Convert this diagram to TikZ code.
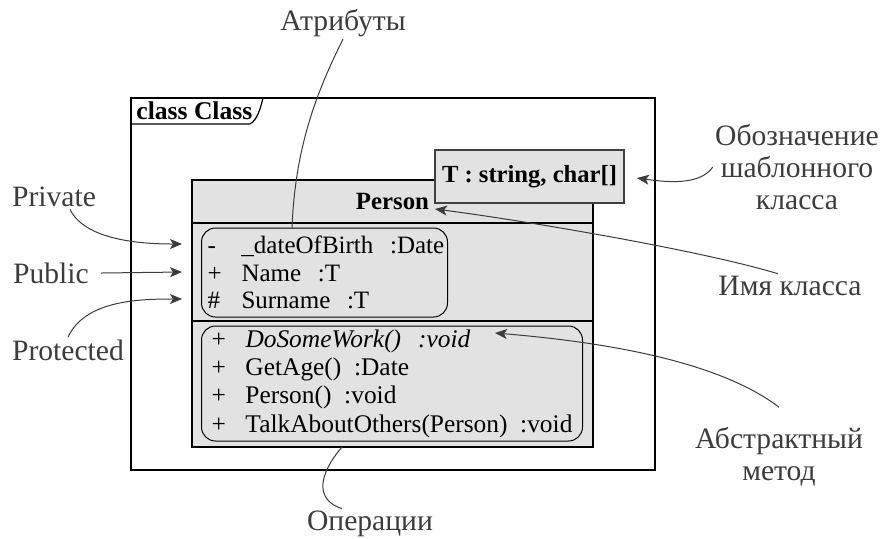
\documentclass[tikz,border=0pt]{standalone}
\usepackage{fontspec}
\setmainfont{Liberation Serif}
\usetikzlibrary{arrows.meta,%
	shapes,%
	positioning%
}

\definecolor{boxfill}{HTML}{E2E2E2}
\definecolor{notegray}{HTML}{3C3C3C}

\begin{document}
\begin{tikzpicture}[x=0.5pt, y=-0.5pt]
	\useasboundingbox (0,0) rectangle (884,538);
	% frame of the diagram
	\node[draw, line width=0.6pt, minimum width=262pt, minimum height=186pt, inner sep=0pt] (FR) at (393,284) {};
	\node[anchor=west, inner sep=0pt, font=\fontsize{12.8}{14}\selectfont\bfseries] (FL) at (136,111) {class Class};
	\draw[line width=0.6pt] (131,124) -- (250,124) .. controls (257,120) and (260,110) .. (263,98);
	
	\begin{scope}[every node/.style={draw, fill=boxfill, line width=0.6pt, minimum width=200.5pt, inner sep=0pt}]
	\node[minimum height=21.5pt, font=\fontsize{12.4}{14}\selectfont\bfseries] (NM) at (392.5,201.5) {Person};
	\node[minimum height=49pt] (AT) at (392.5,272) {};
	\node[minimum height=63pt] (OP) at (392.5,384) {};
	\end{scope}
	
	\begin{scope}[every node/.style={draw, rounded corners=7pt, line width=0.5pt, align=left, anchor=west, inner ysep=0pt}]
	\node[text width=117pt, inner xsep=3pt, minimum height=44.5pt, font=\fontsize{12.5}{13.6}\selectfont] (AL) at (201,272.5)
	{\mbox{\makebox[17pt][l]{-}\_dateOfBirth\ \ :Date}\\
	 \mbox{\makebox[17pt][l]{+}Name\ \ :T}\\
	 \mbox{\makebox[17pt][l]{\#}Surname\ \ :T}};
	\node[text width=180.5pt, inner xsep=5pt, minimum height=57.5pt, font=\fontsize{12.7}{14.2}\selectfont] (OL) at (201,383.5)
	{\mbox{\makebox[17pt][l]{+}\textit{DoSomeWork()\ \ :void}}\\
	 \mbox{\makebox[17pt][l]{+}GetAge()\ \,:Date}\\
	 \mbox{\makebox[17pt][l]{+}Person()\ \,:void}\\
	 \mbox{\makebox[17pt][l]{+}TalkAboutOthers(Person)\ \,:void}};
	\end{scope}
	
	\node[draw=black!75, fill=boxfill, line width=0.6pt, minimum width=94.5pt, minimum height=26.5pt, inner sep=0pt,
		font=\fontsize{12.3}{14}\selectfont\bfseries] (TP) at (529.5,176.5) {T : string, char[]};
	
	\begin{scope}[every node/.style={text=notegray, align=center, inner sep=1pt, font=\fontsize{14.8}{16}\selectfont}]
	\node (ATL) at (343,23) {Атрибуты};
	\node (PRV) at (54,197) {Private};
	\node (PUB) at (51,273) {Public};
	\node (PRT) at (68,350) {Protected};
	\node (TPL) at (797,167) {Обозначение\\шаблонного\\класса};
	\node (CNL) at (790,286) {Имя класса};
	\node (ABL) at (779,457) {Абстрактный\\метод};
	\node (OPL) at (370,524) {Операции};
	\end{scope}
	
	\coordinate (at) at (292,228);
	\coordinate (pv) at (182,244);
	\coordinate (pb) at (182,272);
	\coordinate (pt) at (182,299);
	\coordinate (tp) at (637,178);
	\coordinate (nm) at (435,209);
	\coordinate (ab) at (495,333);
	\coordinate (op) at (342,447);
	
	\begin{scope}[every path/.style={draw=notegray, line width=0.5pt},
		>={Stealth[length=6pt, width=5pt, inset=1.5pt]}]
	\path (ATL.south) .. controls (315,95) and (295,150) .. (at);
	\path [->] ([xshift=8pt]PRV.south) .. controls (85,240) and (140,244) .. (pv);
	\path [->] ([xshift=5pt]PUB.east) -- (pb);
	\path [->] (PRT.north) .. controls (85,300) and (140,299) .. (pt);
	\path [->] (TPL.west) .. controls (700,186) and (665,182) .. (tp);
	\path [->] ([xshift=-6pt]CNL.north) .. controls (700,250) and (520,220) .. (nm);
	\path [->] ([yshift=9pt]ABL.north) .. controls (730,370) and (640,345) .. (ab);
	\path (op) .. controls (318,475) and (315,500) .. ([xshift=-14pt]OPL.north);
	\end{scope}
\end{tikzpicture}
\end{document}
